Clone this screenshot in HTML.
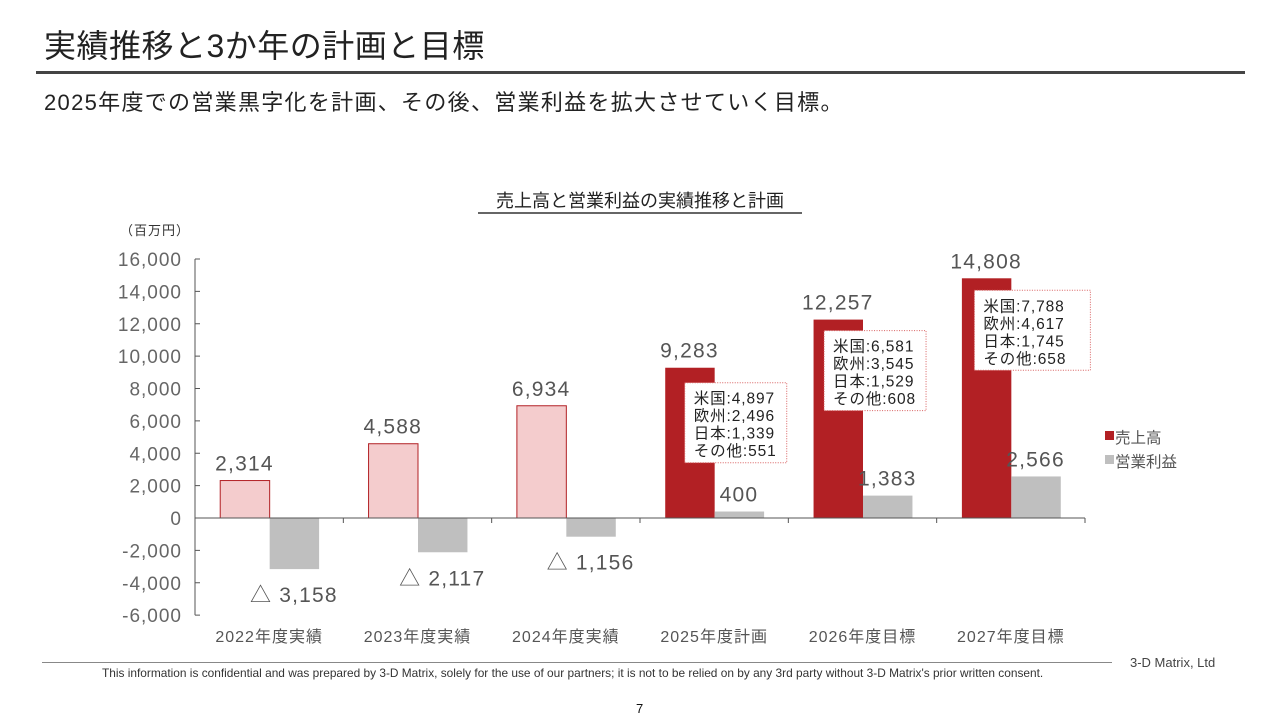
<!DOCTYPE html>
<html><head><meta charset="utf-8">
<style>
body{margin:0;width:1280px;height:720px;background:#fff;font-family:"Liberation Sans","Noto Sans CJK JP",sans-serif;position:relative;overflow:hidden;color:#222}
.t{position:absolute;white-space:nowrap}
</style></head><body>
<div class="t" style="left:44px;top:21px;font-size:32px;letter-spacing:0.5px;color:#222">実績推移と3か年の計画と目標</div>
<div style="position:absolute;left:36px;top:71px;width:1209px;height:3px;background:#444"></div>
<div class="t" style="left:44px;top:85px;font-size:22px;letter-spacing:1.3px;color:#222">2025年度での営業黒字化を計画、その後、営業利益を拡大させていく目標。</div>
<svg id="chart" width="1280" height="720" style="position:absolute;left:0;top:0" font-family="Liberation Sans, Noto Sans CJK JP, sans-serif"></svg>
<div style="position:absolute;left:42px;top:662px;width:1070px;height:1px;background:#888"></div>
<div class="t" style="left:1130px;top:655px;font-size:13px;color:#444">3-D Matrix, Ltd</div>
<div class="t" style="left:102px;top:666px;font-size:12px;color:#333;transform:scaleX(0.99);transform-origin:left">This information is confidential and was prepared by 3-D Matrix, solely for the use of our partners; it is not to be relied on by any 3rd party without 3-D Matrix's prior written consent.</div>
<div class="t" style="left:636px;top:701px;font-size:13px;color:#111">7</div>
<script>
const categories=["2022年度実績","2023年度実績","2024年度実績","2025年度計画","2026年度目標","2027年度目標"];
const sales=[2314,4588,6934,9283,12257,14808];
const profit=[-3158,-2117,-1156,400,1383,2566];
const planned=[false,false,false,true,true,true];
const yTicks=[16000,14000,12000,10000,8000,6000,4000,2000,0,-2000,-4000,-6000];
const breakdowns=[null,null,null,
 ["米国:4,897","欧州:2,496","日本:1,339","その他:551"],
 ["米国:6,581","欧州:3,545","日本:1,529","その他:608"],
 ["米国:7,788","欧州:4,617","日本:1,745","その他:658"]];
const boxLayout=[null,null,null,{dx:20,dy:15,w:102},{dx:11,dy:11,w:102},{dx:13,dy:12,w:116}];
const svg=document.getElementById('chart');const NS='http://www.w3.org/2000/svg';
const X0=195,X1=1085,CW=(X1-X0)/categories.length;
function y(v){return 518-v*259/16000;}
function xc(i){return X0+CW*(i+0.5);}
function fmt(v){return Math.abs(v).toLocaleString('en-US');}
function el(t,a,txt){const e=document.createElementNS(NS,t);for(const k in a)e.setAttribute(k,a[k]);if(txt!=null)e.textContent=txt;svg.appendChild(e);return e;}
let e;
e=el('text',{x:640,y:207,'font-size':18,'text-anchor':'middle',fill:'#222'},'売上高と営業利益の実績推移と計画');


e=el('line',{x1:478,x2:802,y1:213,y2:213,stroke:'#333','stroke-width':1.5});


e=el('text',{x:120,y:235,'font-size':13,fill:'#333','letter-spacing':1},'（百万円）');


el('line',{x1:X0,x2:X0,y1:y(16000),y2:y(-6000),stroke:'#555'});
yTicks.forEach(v=>{
 el('line',{x1:X0,x2:X0+5,y1:y(v),y2:y(v),stroke:'#555'});
 e=el('text',{x:182,y:y(v)+7,'font-size':19,'text-anchor':'end',fill:'#666','letter-spacing':1},v.toLocaleString('en-US'));
 
 
});
categories.forEach((c,i)=>{
 const L=X0+CW*i, bw=CW/3;
 e=el('rect',{x:L+bw/2+0.5,y:y(sales[i]),width:bw,height:y(0)-y(sales[i]),fill:planned[i]?'#b22024':'#f4cccd',stroke:planned[i]?'none':'#b22024','stroke-width':1});
 
 
 const p=profit[i];
 e=el('rect',{x:L+bw*1.5+0.5,y:Math.min(y(p),y(0)),width:bw,height:Math.abs(y(p)-y(0)),fill:'#bfbfbf'});
 
 
 e=el('text',{x:L+bw,y:y(sales[i])-10,'font-size':21,'text-anchor':'middle',fill:'#555','letter-spacing':1.2},fmt(sales[i]));
 
 
 const ly=p<0?y(p)+33:y(p)-10;
 e=el('text',{x:L+bw*2,y:ly,'font-size':21,'text-anchor':'middle',fill:'#555','letter-spacing':1.2},(p<0?'△ ':'')+fmt(p));
 
 
 e=el('text',{x:xc(i),y:642,'font-size':16,'text-anchor':'middle',fill:'#555','letter-spacing':1},c);
 
 
 if(i>0)el('line',{x1:L,x2:L,y1:518,y2:523,stroke:'#555'});
 if(breakdowns[i]){
  const lay=boxLayout[i];
  const bx=L+bw/2+lay.dx, by=y(sales[i])+lay.dy;
  e=el('rect',{x:bx,y:by,width:lay.w,height:80,fill:'#fff',stroke:'#d86060','stroke-dasharray':'1,1.5','stroke-width':1});
  
  
  breakdowns[i].forEach((s,j)=>{
   e=el('text',{x:bx+9,y:by+21+j*17.5,'font-size':15.5,fill:'#222','letter-spacing':0.9},s);
   
   
  });
 }
});
el('line',{x1:X0,x2:X1,y1:518,y2:518,stroke:'#555'});
el('line',{x1:X1,x2:X1,y1:518,y2:523,stroke:'#555'});
e=el('rect',{x:1105,y:431,width:9,height:9,fill:'#b22024'});


e=el('text',{x:1115,y:443,'font-size':15.5,fill:'#555'},'売上高');


e=el('rect',{x:1105,y:455,width:9,height:9,fill:'#bfbfbf'});


e=el('text',{x:1115,y:467,'font-size':15.5,fill:'#555'},'営業利益');


</script>
</body></html>
